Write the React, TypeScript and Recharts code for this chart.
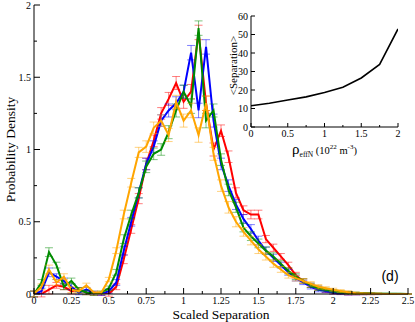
import { ComposedChart, LineChart, Line, XAxis, YAxis, ErrorBar, Label } from "recharts"

const separation = [0, 0.05, 0.1, 0.15, 0.2, 0.25, 0.3, 0.35, 0.4, 0.45, 0.5, 0.55, 0.6, 0.65, 0.7, 0.75, 0.8, 0.85, 0.9, 0.95, 1, 1.05, 1.1, 1.15, 1.2, 1.25, 1.3, 1.35, 1.4, 1.45, 1.5, 1.55, 1.6, 1.65, 1.7, 1.75, 1.8, 1.85, 1.9, 1.95, 2, 2.05, 2.1, 2.15, 2.2, 2.25, 2.3, 2.35, 2.4, 2.45, 2.5]

const redDensity = [0, 0, 0.03, 0.06, 0.05, 0.02, 0.03, 0.01, 0, 0, 0, 0.05, 0.24, 0.45, 0.66, 0.9, 1.06, 1.25, 1.35, 1.46, 1.33, 1.4, 1.81, 1.32, 1.0, 1.13, 0.95, 0.7, 0.58, 0.55, 0.55, 0.38, 0.32, 0.26, 0.2, 0.13, 0.09, 0.06, 0.04, 0.02, 0.01, 0.006, 0.003, 0.002, 0.001, 0, 0, 0, 0, 0, 0]
const blueDensity = [0, 0.02, 0.15, 0.12, 0.09, 0.05, 0.01, 0.03, 0.01, 0, 0.02, 0.08, 0.3, 0.5, 0.7, 0.9, 1.02, 1.2, 1.27, 1.32, 1.4, 1.67, 1.27, 1.71, 1.2, 0.9, 0.75, 0.62, 0.52, 0.45, 0.37, 0.3, 0.25, 0.2, 0.15, 0.11, 0.08, 0.05, 0.03, 0.02, 0.01, 0.006, 0.003, 0.002, 0.001, 0.001, 0, 0, 0, 0, 0]
const greenDensity = [0, 0.08, 0.29, 0.2, 0.05, 0.09, 0.03, 0.01, 0, 0.01, 0.04, 0.15, 0.38, 0.55, 0.7, 0.88, 0.97, 1.0, 1.12, 1.27, 1.4, 1.3, 1.84, 1.2, 1.27, 0.93, 0.72, 0.6, 0.46, 0.4, 0.35, 0.3, 0.26, 0.21, 0.16, 0.12, 0.09, 0.06, 0.04, 0.03, 0.02, 0.012, 0.008, 0.005, 0.004, 0.003, 0.002, 0.002, 0.001, 0.001, 0]
const orangeDensity = [0, 0.05, 0.17, 0.08, 0.12, 0.03, 0.02, 0.06, 0.01, 0.01, 0.1, 0.3, 0.55, 0.77, 0.98, 1.02, 1.15, 1.2, 1.1, 1.33, 1.2, 1.27, 1.1, 1.32, 0.97, 0.75, 0.6, 0.5, 0.43, 0.37, 0.31, 0.26, 0.21, 0.17, 0.13, 0.11, 0.09, 0.07, 0.05, 0.04, 0.03, 0.02, 0.012, 0.006, 0.003, 0.002, 0.001, 0, 0, 0, 0]
const densityError = [0.02, 0.02, 0.03, 0.02, 0.02, 0.02, 0.015, 0.015, 0.01, 0.01, 0.015, 0.02, 0.03, 0.03, 0.035, 0.04, 0.04, 0.04, 0.045, 0.045, 0.045, 0.05, 0.05, 0.05, 0.045, 0.04, 0.04, 0.035, 0.03, 0.03, 0.03, 0.025, 0.025, 0.02, 0.02, 0.02, 0.015, 0.015, 0.015, 0.01, 0.01, 0.01, 0.01, 0.008, 0.006, 0.005, 0.004, 0.003, 0.003, 0.002, 0.002]

const xMajorTicks = [0, 0.25, 0.5, 0.75, 1, 1.25, 1.5, 1.75, 2, 2.25, 2.5]
const xMinorTicks = [0.125, 0.375, 0.625, 0.875, 1.125, 1.375, 1.625, 1.875, 2.125, 2.375]
const yMajorTicks = [0, 0.5, 1, 1.5, 2]
const yMinorTicks = [0.25, 0.75, 1.25, 1.75]

const insetDensity = [0, 0.25, 0.5, 0.75, 1, 1.25, 1.5, 1.75, 2]
const insetSeparation = [11.5, 12.8, 14.6, 16.3, 18.7, 21.5, 26.5, 33.8, 53]
const insetXTicks = [0, 0.5, 1, 1.5, 2]
const insetXMinor = [0.25, 0.75, 1.25, 1.75]
const insetYTicks = [0, 10, 20, 30, 40, 50, 60]

const serif = "'Liberation Serif', 'Times New Roman', serif"

const data = separation.map((x, i) => ({
  x,
  red: redDensity[i],
  blue: blueDensity[i],
  green: greenDensity[i],
  orange: orangeDensity[i],
  err: densityError[i],
}))

const insetData = insetDensity.map((x, i) => ({ x, sep: insetSeparation[i] }))

const sortTicks = (a: number[], b: number[]) => [...a, ...b].sort((p, q) => p - q)

// ticks point into the plot, labels only on major values
function makeTick(side: "bottom" | "left" | "top" | "right", majors: number[], big: number, small: number, labels: boolean, fontSize = 10) {
  return (props: any) => {
    const { x, y, payload } = props
    const v = payload.value
    const isMajor = majors.some((m) => Math.abs(m - v) < 1e-9)
    const len = isMajor ? big : small
    let line
    if (side === "bottom") line = <line x1={x} x2={x} y1={y} y2={y - len} />
    else if (side === "top") line = <line x1={x} x2={x} y1={y} y2={y + len} />
    else if (side === "left") line = <line x1={x} x2={x + len} y1={y} y2={y} />
    else line = <line x1={x} x2={x - len} y1={y} y2={y} />
    return (
      <g stroke="#000" strokeWidth={1}>
        {line}
        {labels && isMajor && side === "bottom" && (
          <text x={x} y={y + fontSize} textAnchor="middle" fontSize={fontSize} fontFamily={serif} fill="#000" stroke="none">
            {v}
          </text>
        )}
        {labels && isMajor && side === "left" && (
          <text x={x - 3} y={y + fontSize * 0.35} textAnchor="end" fontSize={fontSize} fontFamily={serif} fill="#000" stroke="none">
            {v}
          </text>
        )}
      </g>
    )
  }
}

export default function App() {
  const colors = { red: "#ff0000", blue: "#0000ff", green: "#008c00", orange: "#ffa500" }
  const series = ["red", "blue", "green", "orange"] as const

  return (
    <div style={{ position: "absolute", left: 0, top: 0, width: 415, height: 322, background: "#fff" }}>
      <div style={{ position: "absolute", left: 0, top: 0 }}>
        <ComposedChart width={415} height={322} data={data} margin={{ top: 5, right: 7, bottom: 0, left: 0 }}>
          <XAxis
            dataKey="x"
            type="number"
            domain={[0, 2.5]}
            allowDataOverflow
            ticks={sortTicks(xMajorTicks, xMinorTicks)}
            interval={0}
            height={28}
            tickSize={0}
            tickMargin={0}
            tickLine={false}
            stroke="#000"
            tick={makeTick("bottom", xMajorTicks, 6, 3, true)}
          >
            <Label
              content={(p: any) => {
                const vb = p.viewBox || { x: 34, y: 294, width: 374 }
                return (
                  <text x={vb.x + vb.width / 2} y={vb.y + 25} textAnchor="middle" fontSize={13.5} fontFamily={serif} fill="#000">
                    Scaled Separation
                  </text>
                )
              }}
            />
            <Label
              content={(p: any) => {
                const vb = p.viewBox || { x: 34, y: 294, width: 374 }
                return (
                  <text x={vb.x + vb.width - 18} y={vb.y - 13} textAnchor="middle" fontSize={14} fontFamily="'Liberation Sans', Arial, sans-serif" fill="#000">
                    (d)
                  </text>
                )
              }}
            />
          </XAxis>
          <XAxis
            xAxisId="top"
            orientation="top"
            type="number"
            domain={[0, 2.5]}
            allowDataOverflow
            ticks={sortTicks(xMajorTicks, xMinorTicks)}
            interval={0}
            height={0}
            tickSize={0}
            tickMargin={0}
            tickLine={false}
            stroke="#000"
            tick={makeTick("top", xMajorTicks, 6, 3, false)}
          />
          <YAxis
            type="number"
            domain={[0, 2]}
            allowDataOverflow
            ticks={sortTicks(yMajorTicks, yMinorTicks)}
            interval={0}
            width={34}
            tickSize={0}
            tickMargin={0}
            tickLine={false}
            stroke="#000"
            tick={makeTick("left", yMajorTicks, 6, 3, true)}
          >
            <Label
              content={(p: any) => {
                const vb = p.viewBox || { x: 0, y: 5, width: 34, height: 289 }
                const cx = vb.x + 10
                const cy = vb.y + vb.height / 2
                return (
                  <text x={cx} y={cy} transform={`rotate(-90 ${cx} ${cy})`} textAnchor="middle" dominantBaseline="central" fontSize={13.5} fontFamily={serif} fill="#000">
                    Probability Density
                  </text>
                )
              }}
            />
          </YAxis>
          <YAxis
            yAxisId="right"
            orientation="right"
            type="number"
            domain={[0, 2]}
            allowDataOverflow
            ticks={sortTicks(yMajorTicks, yMinorTicks)}
            interval={0}
            width={0}
            tickSize={0}
            tickMargin={0}
            tickLine={false}
            stroke="#000"
            tick={makeTick("right", yMajorTicks, 6, 3, false)}
          />
          {series.map((s) => (
            <Line key={s} dataKey={s} type="linear" stroke={colors[s]} strokeWidth={2} dot={false} isAnimationActive={false}>
              <ErrorBar dataKey="err" width={4} stroke={colors[s]} strokeOpacity={0.5} strokeWidth={1} direction="y" />
            </Line>
          ))}
        </ComposedChart>
      </div>

      <div style={{ position: "absolute", left: 225, top: 8 }}>
        <LineChart width={180} height={152} data={insetData} margin={{ top: 8, right: 7, bottom: 0, left: 0 }}>
          <XAxis
            dataKey="x"
            type="number"
            domain={[0, 2]}
            allowDataOverflow
            ticks={sortTicks(insetXTicks, insetXMinor)}
            interval={0}
            height={33}
            tickSize={0}
            tickMargin={0}
            tickLine={false}
            stroke="#000"
            tick={makeTick("bottom", insetXTicks, 4, 2, true, 10)}
          >
            <Label
              content={(p: any) => {
                const vb = p.viewBox || { x: 251, y: 119, width: 147 }
                return (
                  <text x={vb.x + vb.width / 2} y={vb.y + 27} textAnchor="middle" fontFamily={serif} fill="#000">
                    <tspan fontSize={15}>ρ</tspan>
                    <tspan fontSize={7.5} dy={3}>effN</tspan>
                    <tspan fontSize={10.5} dy={-3}> (10</tspan>
                    <tspan fontSize={7} dy={-5}>22</tspan>
                    <tspan fontSize={10.5} dy={5}> m</tspan>
                    <tspan fontSize={7} dy={-5}>-3</tspan>
                    <tspan fontSize={10.5} dy={5}>)</tspan>
                  </text>
                )
              }}
            />
          </XAxis>
          <XAxis
            xAxisId="top"
            orientation="top"
            type="number"
            domain={[0, 2]}
            allowDataOverflow
            ticks={sortTicks(insetXTicks, insetXMinor)}
            interval={0}
            height={0}
            tickSize={0}
            tickMargin={0}
            tickLine={false}
            stroke="#000"
            tick={makeTick("top", insetXTicks, 4, 2, false)}
          />
          <YAxis
            type="number"
            domain={[0, 60]}
            allowDataOverflow
            ticks={insetYTicks}
            interval={0}
            width={26}
            tickSize={0}
            tickMargin={0}
            tickLine={false}
            stroke="#000"
            tick={makeTick("left", insetYTicks, 4, 2, true, 10)}
          >
            <Label
              content={(p: any) => {
                const vb = p.viewBox || { x: 0, y: 8, width: 26, height: 111 }
                const cx = vb.x + 8
                const cy = vb.y + vb.height / 2 - 6
                return (
                  <text x={cx} y={cy} transform={`rotate(-90 ${cx} ${cy})`} textAnchor="middle" dominantBaseline="central" fontSize={11} fontFamily={serif} fill="#000">
                    {"<Separation>"}
                  </text>
                )
              }}
            />
          </YAxis>
          <YAxis
            yAxisId="right"
            orientation="right"
            type="number"
            domain={[0, 60]}
            allowDataOverflow
            ticks={insetYTicks}
            interval={0}
            width={0}
            tickSize={0}
            tickMargin={0}
            tickLine={false}
            stroke="#000"
            tick={makeTick("right", insetYTicks, 4, 2, false)}
          />
          <Line dataKey="sep" type="linear" stroke="#000" strokeWidth={1.6} dot={false} isAnimationActive={false} />
        </LineChart>
      </div>
    </div>
  )
}
